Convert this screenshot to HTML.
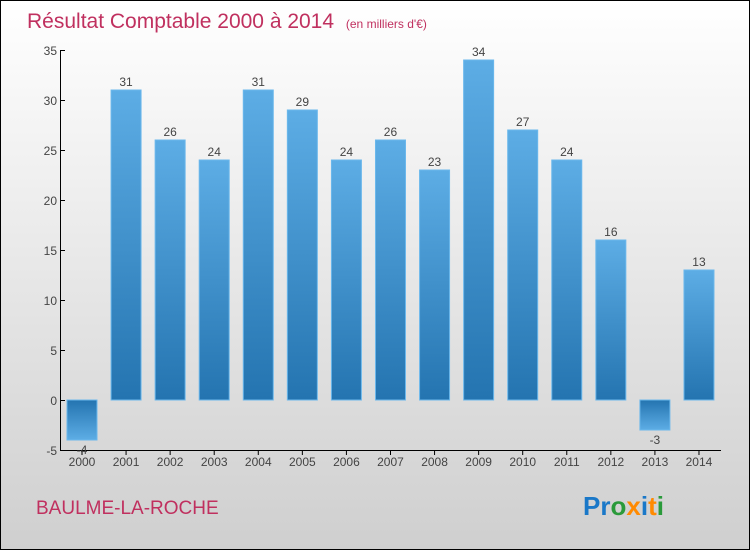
<!DOCTYPE html>
<html><head><meta charset="utf-8"><style>
html,body{margin:0;padding:0}
body{width:750px;height:550px;overflow:hidden;font-family:"Liberation Sans","DejaVu Sans",sans-serif}
#wrap{position:relative;width:748px;height:548px;border:1px solid #000;background:linear-gradient(#ffffff,#cfcfcf)}
</style></head><body>
<div id="wrap">
<svg id="chart" width="748" height="548" viewBox="0 0 748 548">
<defs>
<linearGradient id="gpos" x1="0" y1="0" x2="0" y2="1"><stop offset="0" stop-color="#5dade5"/><stop offset="1" stop-color="#2474b0"/></linearGradient>
<linearGradient id="gneg" x1="0" y1="0" x2="0" y2="1"><stop offset="0" stop-color="#2474b0"/><stop offset="1" stop-color="#5dade5"/></linearGradient>
</defs>
<text x="26" y="27" font-size="21" fill="#c0305f">Résultat Comptable 2000 à 2014 <tspan font-size="12" dx="6">(en milliers d'€)</tspan></text>
<g id="axes"></g>
<g id="bars"></g>
<text x="35" y="513" font-size="19" fill="#c0305f">BAULME-LA-ROCHE</text>
<text x="582" y="514" font-size="26" font-weight="bold"><tspan fill="#1a78c8">Pr</tspan><tspan fill="#2a9a3a">o</tspan><tspan fill="#ff8a00">x</tspan><tspan fill="#1a78c8">i</tspan><tspan fill="#ff8a00">t</tspan><tspan fill="#2a9a3a">i</tspan></text>
</svg>
</div>
<script>
const categories=["2000","2001","2002","2003","2004","2005","2006","2007","2008","2009","2010","2011","2012","2013","2014"];
const values=[-4,31,26,24,31,29,24,26,23,34,27,24,16,-3,13];
const yTicks=[-5,0,5,10,15,20,25,30,35];
const NS="http://www.w3.org/2000/svg";
function y(v){return 399-(v)*10;}
function x(i){return 81+i*44.07;}
function mk(tag,attrs,parent){const e=document.createElementNS(NS,tag);for(const k in attrs)e.setAttribute(k,attrs[k]);parent.appendChild(e);return e;}
const axes=document.getElementById('axes'),bars=document.getElementById('bars');
const ya=mk('line',{x1:59.5,y1:y(35),x2:59.5,y2:y(-5),stroke:'#000'},axes);


const xa=mk('line',{x1:59,y1:y(-5)+0.5,x2:720,y2:y(-5)+0.5,stroke:'#000'},axes);


yTicks.forEach(t=>{
  mk('line',{x1:59,y1:y(t)+0.5,x2:64,y2:y(t)+0.5,stroke:'#000'},axes);
  const tx=mk('text',{x:56,y:y(t)+5,'text-anchor':'end','font-size':12,fill:'#444'},axes);
  tx.textContent=t;
  
  
});
categories.forEach((c,i)=>{
  const cx=x(i);
  mk('line',{x1:cx,y1:y(-5),x2:cx,y2:y(-5)+5,stroke:'#000'},axes);
  const tl=mk('text',{x:cx,y:y(-5)+16,'text-anchor':'middle','font-size':12,fill:'#444'},axes);
  tl.textContent=c;
  
  
  const v=values[i];
  const top=Math.min(y(v),y(0)), h=Math.abs(y(v)-y(0));
  const r=mk('rect',{x:cx-15,y:top,width:30,height:h,fill:v>=0?'url(#gpos)':'url(#gneg)',stroke:'#6bb8ec','stroke-width':1},bars);
  
  
  const lb=mk('text',{x:cx,y:v>=0?y(v)-4:y(v)+14,'text-anchor':'middle','font-size':12,fill:'#444'},bars);
  lb.textContent=v;
  
  
});
</script>
</body></html>
